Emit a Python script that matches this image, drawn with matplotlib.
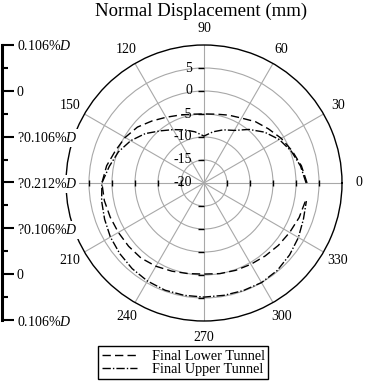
import numpy as np
import matplotlib.pyplot as plt
from matplotlib.ticker import MultipleLocator
from matplotlib.markers import TICKLEFT

plt.rcParams['font.family'] = ['Liberation Serif', 'DejaVu Serif']
plt.rcParams['mathtext.fontset'] = 'custom'
plt.rcParams['mathtext.rm'] = 'Liberation Serif'
plt.rcParams['mathtext.it'] = 'Liberation Serif:italic'

# angle (deg) and normal displacement (mm)
angles = np.arange(0, 360, 10)
lower_tunnel = [2.4, 1.5, 0.4, -0.6, -1.7, -2.6, -3.7, -4.3, -4.8, -5.0,
                -4.8, -4.3, -3.5, -2.4, -1.1, -0.2, 0.5, 1.5, 2.2, 2.0,
                1.7, 1.5, 1.4, 1.3, 0.9, 0.4, 0.0, -0.2, 0.0, 0.2,
                0.4, 0.7, 1.1, 1.5, 2.0, 2.4]
upper_tunnel = [2.2, 1.3, 0.2, -1.1, -2.8, -4.8, -6.8, -7.7, -8.7, -9.8,
                -8.7, -7.7, -6.6, -5.2, -3.3, -1.6, -0.2, 0.9, 2.2, 2.6,
                3.0, 3.5, 3.9, 4.3, 4.6, 4.8, 4.8, 4.8, 4.8, 4.9,
                5.0, 4.8, 4.3, 3.7, 3.0, 2.6]

r_ticks = [-20, -15, -10, -5, 0, 5]
theta_ticks = np.arange(0, 360, 30)
# 180 is hidden behind the scale labels in the original
theta_labels = ['' if t == 180 else str(t) for t in theta_ticks]
scale_labels = ['0.106%$\\mathit{D}$', '0', '?0.106%$\\mathit{D}$', '?0.212%$\\mathit{D}$',
                '?0.106%$\\mathit{D}$', '0', '0.106%$\\mathit{D}$']

W, H = 366, 390
fig = plt.figure(figsize=(W / 100, H / 100), dpi=100)

# polar plot
ax = fig.add_axes([66 / W, 69 / H, 276 / W, 276 / H], projection='polar')
ax.set_ylim(-20, 10)
ax.set_yticks(r_ticks)
ax.set_yticklabels([])
ax.set_xticks(np.deg2rad(theta_ticks))
ax.set_xticklabels(theta_labels)
ax.tick_params(axis='x', direction='out', length=5, width=0.8, pad=0, labelsize=10, colors='black')
ax.grid(True, color='#a8a8a8', linewidth=0.8)
ax.spines['polar'].set_color('black')
ax.spines['polar'].set_linewidth(1.0)

th = np.deg2rad(angles)
ax.plot(th, lower_tunnel, color='black', lw=1.0, dashes=(6, 3), label='Final Lower Tunnel')
ax.plot(th, upper_tunnel, color='black', lw=1.0, dashes=(6, 1.5, 1, 1.5), label='Final Upper Tunnel')

# radial ticks on the main spokes
rr = r_ticks[1:]
for a, m in [(0, '|'), (180, '|'), (90, TICKLEFT), (270, TICKLEFT)]:
    ax.plot(np.full(len(rr), np.deg2rad(a)), rr, ls='none', marker=m, ms=4,
            mew=1.0, color='black', clip_on=False)

# radial labels along the 90 spoke
for r in r_ticks:
    ax.annotate(f'{r}', xy=(np.pi / 2, r), xytext=(-8.5, 0), textcoords='offset points',
                ha='right', va='center', fontsize=10)

fig.text(201 / W, 1 - 11 / H, 'Normal Displacement (mm)', ha='center', va='center', fontsize=13.5)

# scale bar on the left
ax2 = fig.add_axes([1 / W, 70 / H, 1 / W, 275 / H])
ax2.set_zorder(3)
ax2.patch.set_visible(False)
for s in ['top', 'bottom', 'left']:
    ax2.spines[s].set_visible(False)
ax2.spines['right'].set_linewidth(2.2)
ax2.set_xticks([])
ax2.set_ylim(0, 6)
ax2.yaxis.tick_right()
ax2.set_yticks(range(7))
ax2.set_yticklabels(scale_labels[::-1])
ax2.yaxis.set_minor_locator(MultipleLocator(0.5))
ax2.tick_params(axis='y', which='major', direction='out', length=8.5, width=1.5, pad=2, labelsize=10)
ax2.tick_params(axis='y', which='minor', direction='out', length=4, width=1.5)
for lab in ax2.get_yticklabels():
    lab.set_bbox(dict(facecolor='white', edgecolor='none', pad=1.5))

leg = fig.legend(loc='upper left', bbox_to_anchor=(98 / W, 1 - 346 / H), fontsize=10.3,
                 handlelength=2.5, handletextpad=1.0, borderpad=0.25, labelspacing=0.02,
                 fancybox=False, edgecolor='black', framealpha=1, borderaxespad=0)
leg.get_frame().set_linewidth(1.0)

fig.savefig('out.png', dpi=100)
